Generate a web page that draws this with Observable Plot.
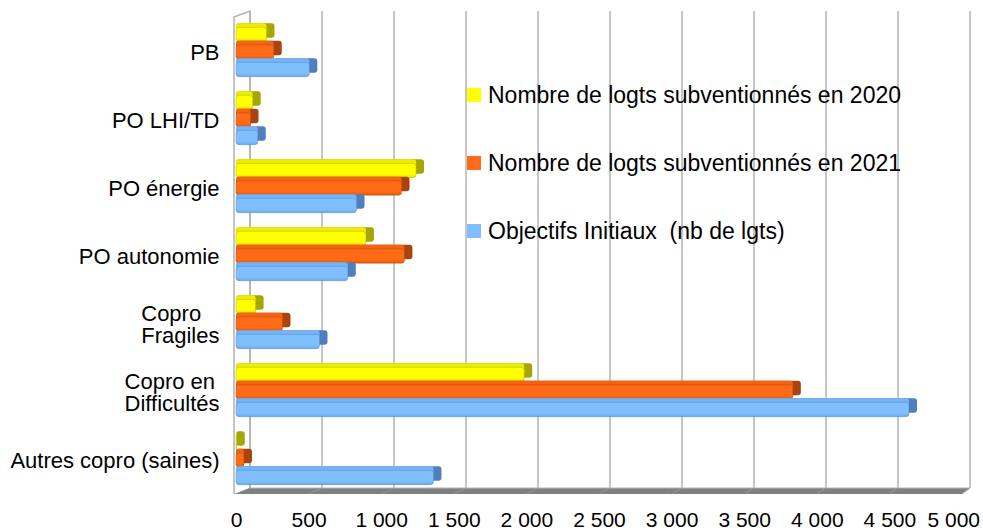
<!DOCTYPE html>
<html><head><meta charset="utf-8">
<script src="https://cdn.jsdelivr.net/npm/d3@7"></script>
<script src="https://cdn.jsdelivr.net/npm/@observablehq/plot@0.6"></script>
<style>
html,body{margin:0;padding:0;background:#fff;}
#wrap{position:relative;width:983px;height:530px;overflow:hidden;font-family:"Liberation Sans",Arial,sans-serif;}
#wrap svg{display:block;}
#wrap g[aria-label^="x-axis"] text{font-size:21px;}
.legend{position:absolute;left:467px;top:0;font-size:23px;color:#000;}
.item{position:absolute;left:0;white-space:pre;display:flex;align-items:center;height:28px;}
.sw{width:14px;height:14px;margin-right:7px;flex:none;}
</style></head><body><div id="wrap"></div>
<script>
// ---- data ----
const categories = ["PB", "PO LHI/TD", "PO énergie", "PO autonomie", "Copro\nFragiles", "Copro en\nDifficultés", "Autres copro (saines)"];
const logts2020 = [210, 115, 1240, 895, 135, 1985, 5];
const logts2021 = [260, 100, 1140, 1160, 320, 3835, 55];
const objectifs = [505, 150, 830, 770, 575, 4635, 1360];
const seriesNames = ["Nombre de logts subventionnés en 2020", "Nombre de logts subventionnés en 2021", "Objectifs Initiaux  (nb de lgts)"];
const xTicks = [0, 500, 1000, 1500, 2000, 2500, 3000, 3500, 4000, 4500, 5000];

// ---- styles ----
const seriesStyle = [
  {id: "g0", front: "#ffff00", dark: "#e2e200", top: "#eded00", side: "#a6a600", off: -17.5},
  {id: "g1", front: "#ff6b17", dark: "#e65a0c", top: "#f4630f", side: "#a8440c", off: 0},
  {id: "g2", front: "#80bfff", dark: "#6ea8e6", top: "#76b4f4", side: "#4f80bd", off: 17.5}
];
const seriesValues = [logts2020, logts2021, objectifs];
const width = 983, height = 530;
const marginLeft = 236, marginRight = 21, marginTop = 17, marginBottom = 36;
const bandH = (height - marginTop - marginBottom) / categories.length;
const barH = 14.5;
const inset = (bandH - barH) / 2;
const depthX = 8, depthY = 4;

const fmt = v => v >= 1000 ? `${Math.floor(v / 1000)} ${String(v % 1000).padStart(3, "0")}` : String(v);

// gradients for the bar fronts
function gradients() {
  const defs = d3.create("svg:defs");
  for (const st of seriesStyle) {
    const lg = defs.append("linearGradient").attr("id", st.id).attr("x1", 0).attr("x2", 0).attr("y1", 0).attr("y2", 1);
    lg.append("stop").attr("offset", "0%").attr("stop-color", st.front);
    lg.append("stop").attr("offset", "75%").attr("stop-color", st.front);
    lg.append("stop").attr("offset", "100%").attr("stop-color", st.dark);
  }
  return defs.node();
}

// 3D-ish backdrop (wall, back gridlines, floor) drawn from the x scale
function backdrop(index, scales, values, dims) {
  const x = scales.x;
  const top = dims.marginTop, bottom = dims.height - dims.marginBottom;
  const d0 = xTicks[0], d1 = xTicks[xTicks.length - 1];
  const depth = v => 14 - 6 * (v - d0) / (d1 - d0);
  const back = -6;
  const g = d3.create("svg:g");
  const xl = x(d0) - 2, xr = x(d1);
  g.append("path")
    .attr("d", `M${xl},${bottom} L${xl},${top} L${x(d0) + depth(d0)},${top + back} L${x(d0) + depth(d0)},${bottom + back}`)
    .attr("fill", "none").attr("stroke", "#b3b3b3").attr("stroke-width", 1.5);
  for (const v of xTicks) {
    g.append("line")
      .attr("x1", x(v) + depth(v)).attr("x2", x(v) + depth(v))
      .attr("y1", top + back).attr("y2", bottom + back)
      .attr("stroke", "#b3b3b3").attr("stroke-width", 1.5);
  }
  g.append("path")
    .attr("d", `M${xl},${bottom} L${xr},${bottom} L${xr + depth(d1)},${bottom + back} L${x(d0) + depth(d0)},${bottom + back} Z`)
    .attr("fill", "#808080");
  g.append("line")
    .attr("x1", x(d0) + depth(d0)).attr("x2", xr + depth(d1))
    .attr("y1", bottom + back).attr("y2", bottom + back)
    .attr("stroke", "#b3b3b3").attr("stroke-width", 1);
  for (const v of xTicks) {
    g.append("line")
      .attr("x1", x(v) + depth(v)).attr("x2", x(v))
      .attr("y1", bottom + back).attr("y2", bottom)
      .attr("stroke", "#999").attr("stroke-width", 0.8);
  }
  g.append("line")
    .attr("x1", xr).attr("x2", xr + depth(d1))
    .attr("y1", bottom).attr("y2", bottom + back)
    .attr("stroke", "#b3b3b3").attr("stroke-width", 1);
  return g.node();
}

const marks = [gradients, backdrop];
seriesValues.forEach((vals, si) => {
  const st = seriesStyle[si];
  const data = categories.map((c, i) => ({cat: c, value: vals[i]}));
  const common = {x: "value", y: "cat", insetTop: inset, insetBottom: inset, rx: 3};
  marks.push(Plot.barX(data, {...common, fill: st.side, insetRight: -depthX, dy: st.off - depthY}));
  marks.push(Plot.barX(data, {...common, fill: st.top, dy: st.off - depthY}));
  marks.push(Plot.barX(data, {...common, fill: `url(#${st.id})`, dy: st.off, stroke: st.side, strokeWidth: 0.8, strokeOpacity: 0.55}));
});

const chart = Plot.plot({
  width, height, marginLeft, marginRight, marginTop, marginBottom,
  style: {fontFamily: "Liberation Sans, Arial, sans-serif", fontSize: "22px", color: "#000", background: "#fff"},
  x: {domain: [0, 5000], ticks: xTicks, tickFormat: fmt, tickSize: 0, tickPadding: 18, label: null},
  y: {domain: categories, padding: 0, tickSize: 0, tickPadding: 17, label: null},
  marks
});
const wrap = document.getElementById("wrap");
wrap.appendChild(chart);

// multi-line category labels: lines left-aligned inside a right-aligned block
chart.querySelectorAll('g[aria-label^="y-axis"] text').forEach(t => {
  const ts = t.querySelectorAll("tspan");
  if (ts.length > 1) {
    let w = 0;
    ts.forEach(s => { w = Math.max(w, s.getComputedTextLength()); });
    t.setAttribute("text-anchor", "start");
    ts.forEach(s => s.setAttribute("x", -w));
  }
});

// keep the last x tick label inside the picture (as in the reference)
{
  const xt = chart.querySelectorAll('g[aria-label^="x-axis"] text');
  const last = xt[xt.length - 1];
  if (last) {
    const svgBox = chart.getBoundingClientRect();
    const b = last.getBoundingClientRect();
    const over = b.right - (svgBox.left + width - 3);
    if (over > 0) {
      const cur = parseFloat(last.getAttribute("dx") || "0");
      last.setAttribute("dx", cur - over);
    }
  }
}

// legend (inside plot area)
const legend = document.createElement("div");
legend.className = "legend";
const legendY = [95, 163, 231];
seriesNames.forEach((name, i) => {
  const it = document.createElement("div");
  it.className = "item";
  it.style.top = (legendY[i] - 14) + "px";
  const sw = document.createElement("span");
  sw.className = "sw";
  sw.style.background = seriesStyle[i].front;
  const tx = document.createElement("span");
  tx.textContent = name;
  it.appendChild(sw); it.appendChild(tx);
  legend.appendChild(it);
});
wrap.appendChild(legend);
</script>
</body></html>
